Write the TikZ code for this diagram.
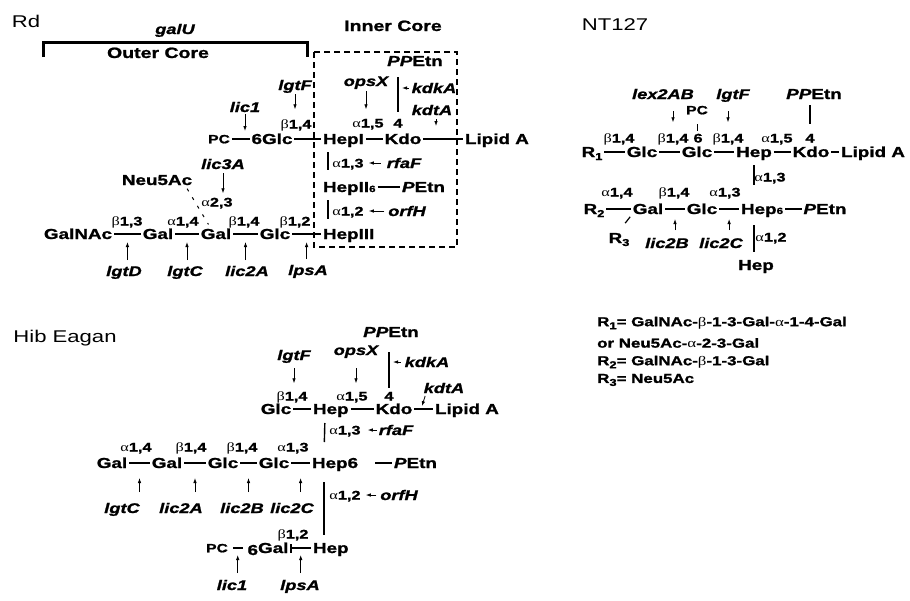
\documentclass[tikz,border=0pt]{standalone}
\usepackage{fontspec}
\setmainfont{Liberation Sans}[FakeStretch=1.3, BoldFeatures={FakeBold=1.3}, BoldItalicFeatures={FakeBold=1.3}]
\newfontfamily\grkfont{Liberation Serif}[FakeStretch=1.3]
\usepackage{tikz}
\usetikzlibrary{arrows.meta, calc}
\newcommand{\aLk}{{\grkfont\mdseries α}}
\newcommand{\bLk}{{\grkfont\mdseries β}}
\newcommand{\sml}[1]{{\fontsize{9}{9}\selectfont #1}}
\newcommand{\rsub}[1]{\raisebox{-3pt}{\fontsize{10}{10}\selectfont #1}}

\begin{document}
\begin{tikzpicture}[x=1pt, y=-1pt,
    sugar/.style={inner sep=0pt, outer sep=2pt, text height=10pt, text depth=0pt, font=\bfseries\fontsize{14.5}{14.5}\selectfont},
    gene/.style={inner sep=0pt, outer sep=1pt, text height=10pt, text depth=0pt, font=\bfseries\itshape\fontsize{14}{14}\selectfont},
    lnk/.style={inner sep=0pt, text height=9pt, text depth=0pt, font=\bfseries\fontsize{12.5}{12.5}\selectfont},
    pcsty/.style={sugar, text height=8.6pt, font=\bfseries\fontsize{12}{12}\selectfont},
    core/.style={sugar, font=\bfseries\fontsize{15}{15}\selectfont},
    hdr/.style={inner sep=0pt, font=\fontsize{17}{17}\selectfont},
    leg/.style={anchor=west, inner sep=0pt, font=\bfseries\fontsize{13}{13}\selectfont},
    bond/.style={line width=1.4pt},
    stem/.style={line width=1.4pt},
    gen/.style={-{Latex[length=5pt,width=3.5pt]}, line width=0.8pt}
]
\useasboundingbox (0,0) rectangle (910,600);

% ---- Rd ----
\node[hdr] (rdT) at (26,21) {Rd};
\node[gene] (galU) at (175,29) {galU};
\draw[line width=3pt] (43,57) |- (307,42) -- (307,57);
\node[core] (outer) at (158,53) {Outer Core};
\node[core] (inner) at (393,26) {Inner Core};
\draw[dash pattern=on 6pt off 4pt, line width=1.3pt] (314,52) rectangle (457,247);

\node[pcsty] (pcA) at (219,139) {PC};
\node[sugar] (glcA) at (272,139) {6Glc};
\node[sugar, anchor=west] (hepA) at (321,139) {HepI};
\node[sugar] (kdoA) at (403,139) {Kdo};
\node[sugar, anchor=west] (lipA) at (463,139) {Lipid A};
\draw[bond] (pcA) -- coordinate (mA1) (glcA);
\draw[bond] (glcA) -- (hepA);
\draw[bond] (hepA) -- (kdoA);
\draw[bond] (kdoA) -- coordinate (mA4) (lipA);

\node[lnk] (lkA1) at (296,124) {\bLk1,4};
\node[lnk] (lkA2) at (368,123) {\aLk1,5};
\node[lnk] (lkA3) at (398,123) {4};
\node[gene] (lgtFa) at (295,85) {lgtF};
\node[gene] (lic1a) at (245,107) {lic1};
\node[gene] (opsXa) at (366,81) {opsX};
\node[sugar] (ppeA) at (415,61) {\textit{PP}Etn};
\node[gene] (kdkAa) at (434,88) {kdkA};
\node[gene] (kdtAa) at (432,110) {kdtA};
\draw[gen, shorten <=3pt, shorten >=10pt] (lgtFa.south) -- (lgtFa.south |- lkA1.north);
\draw[gen, shorten <=1pt, shorten >=8pt] (lic1a.south) -- (lic1a.south |- mA1);
\draw[gen, shorten <=4pt, shorten >=9pt] (opsXa.south) -- (opsXa.south |- lkA2.north);
\draw[stem, shorten <=9pt, shorten >=6pt] (lkA3.north |- ppeA.south) -- (lkA3.north);
\draw[gen, shorten <=2pt, shorten >=4pt] (kdkAa.west) -- (kdkAa.west -| lkA3.north);
\draw[gen, shorten <=3pt, shorten >=13pt] ([xshift=4pt]kdtAa.south) -- ([xshift=4pt]kdtAa.south |- mA4);

\node[lnk] (lkA4) at (348,163) {\aLk1,3};
\node[gene] (rfaFa) at (404,163) {rfaF};
\node[sugar, anchor=west] (hepB) at (321,187) {HepII\sml{6}};
\node[sugar, anchor=west] (petA) at (400,187) {\textit{P}Etn};
\node[lnk] (lkA5) at (348,211) {\aLk1,2};
\node[gene] (orfHa) at (407,211) {orfH};
\node[sugar, anchor=west] (hepC) at (321,234) {HepIII};
\draw[stem, shorten <=6pt, shorten >=10pt] ([xshift=7pt]hepA.south west) -- ([xshift=7pt]hepB.north west);
\draw[gen, shorten <=5pt, shorten >=5pt] (rfaFa) -- (lkA4);
\draw[bond] (hepB) -- (petA);
\draw[stem, shorten <=6pt, shorten >=8pt] ([xshift=7pt]hepB.south west) -- ([xshift=7pt]hepC.north west);
\draw[gen, shorten <=3pt, shorten >=5pt] (orfHa) -- (lkA5);

\node[sugar] (galnacA) at (78,234) {GalNAc};
\node[sugar] (galA1) at (158,234) {Gal};
\node[sugar] (galA2) at (216,234) {Gal};
\node[sugar] (glcA2) at (275,234) {Glc};
\draw[bond] (galnacA) -- coordinate (mB1) (galA1);
\draw[bond] (galA1) -- coordinate (mB2) (galA2);
\draw[bond] (galA2) -- coordinate (mB3) (glcA2);
\draw[bond] (glcA2) -- coordinate (mB4) (hepC);
\node[lnk] (lkB1) at (127,221) {\bLk1,3};
\node[lnk] (lkB2) at (183,221) {\aLk1,4};
\node[lnk] (lkB3) at (244,221) {\bLk1,4};
\node[lnk] (lkB4) at (295,221) {\bLk1,2};
\node[gene] (lgtDa) at (124,271) {lgtD};
\node[gene] (lgtCa) at (185,271) {lgtC};
\node[gene] (lic2Aa) at (247,271) {lic2A};
\node[gene] (lpsAa) at (308,270) {lpsA};
\foreach \g/\m in {lgtDa/mB1, lgtCa/mB2, lic2Aa/mB3, lpsAa/mB4}
    \draw[gen, shorten <=5pt, shorten >=8pt] (\m |- \g.north) -- (\m);

\node[sugar] (neuA) at (157,180) {Neu5Ac};
\node[gene] (lic3Aa) at (223,164) {lic3A};
\node[lnk] (lkB5) at (217,202) {\aLk2,3};
\draw[gen, shorten <=3pt, shorten >=4pt] (lic3Aa.south) -- (lic3Aa.south |- lkB5.north);
\draw[dash pattern=on 3pt off 7pt, line width=1pt, shorten <=2pt, shorten >=3pt] ([xshift=-8pt]neuA.south east) -- ([xshift=-6pt]galA2.north);

% ---- Hib Eagan ----
\node[hdr] (hibT) at (65,338) {Hib Eagan};
\node[sugar] (ppeB) at (391,332) {\textit{PP}Etn};
\node[gene] (lgtFb) at (294,355) {lgtF};
\node[gene] (opsXb) at (356,350) {opsX};
\node[gene] (kdkAb) at (427,362) {kdkA};
\node[gene] (kdtAb) at (444,388) {kdtA};
\node[lnk] (lkC1) at (292,396) {\bLk1,4};
\node[lnk] (lkC2) at (352,396) {\aLk1,5};
\node[lnk] (lkC3) at (389,396) {4};
\node[sugar] (glcB1) at (276,409) {Glc};
\node[sugar, anchor=west] (hepD) at (311,409) {Hep};
\node[sugar] (kdoB) at (394,409) {Kdo};
\node[sugar, anchor=west] (lipB) at (433,409) {Lipid A};
\draw[bond] (glcB1) -- (hepD);
\draw[bond] (hepD) -- (kdoB);
\draw[bond] (kdoB) -- (lipB);
\draw[gen, shorten <=7pt, shorten >=8pt] (lgtFb.south) -- (lgtFb.south |- lkC1.north);
\draw[gen, shorten <=12pt, shorten >=8pt] (opsXb.south) -- (opsXb.south |- lkC2.north);
\draw[stem, shorten <=13pt, shorten >=3pt] (lkC3.north |- ppeB.south) -- (lkC3.north);
\draw[gen, shorten <=3pt, shorten >=4pt] (kdkAb.west) -- (kdkAb.west -| lkC3.north);
\draw[gen, shorten <=2pt, shorten >=3pt] ([xshift=3pt]kdtAb.south west) -- ([xshift=-12pt]lipB.west);

\node[lnk] (lkC4) at (345,430) {\aLk1,3};
\node[gene] (rfaFb) at (396,430) {rfaF};
\node[sugar] (galB1) at (112,463) {Gal};
\node[sugar] (galB2) at (167,463) {Gal};
\node[sugar] (glcB2) at (223,463) {Glc};
\node[sugar] (glcB3) at (274,463) {Glc};
\node[sugar, anchor=west] (hepE) at (310,463) {Hep6};
\node[sugar, anchor=west] (petB) at (392,463) {\textit{P}Etn};
\draw[stem, shorten <=7pt, shorten >=14pt] ([xshift=14pt]hepD.south west) -- ([xshift=14pt]hepE.north west);
\draw[gen, shorten <=1pt, shorten >=7pt] (rfaFb) -- (lkC4);
\draw[bond] (galB1) -- coordinate (mC1) (galB2);
\draw[bond] (galB2) -- coordinate (mC2) (glcB2);
\draw[bond] (glcB2) -- coordinate (mC3) (glcB3);
\draw[bond] (glcB3) -- coordinate (mC4) (hepE);
\draw[bond, shorten <=15pt] (hepE) -- (petB);
\node[lnk] (lkC5) at (136,447) {\aLk1,4};
\node[lnk] (lkC6) at (191,447) {\bLk1,4};
\node[lnk] (lkC7) at (242,447) {\bLk1,4};
\node[lnk] (lkC8) at (293,447) {\aLk1,3};
\node[gene] (lgtCb) at (122,508) {lgtC};
\node[gene] (lic2Ab) at (181,508) {lic2A};
\node[gene] (lic2Bb) at (242,508) {lic2B};
\node[gene] (lic2Cb) at (292,508) {lic2C};
\foreach \g/\m in {lgtCb/mC1, lic2Ab/mC2, lic2Bb/mC3, lic2Cb/mC4}
    \draw[gen, shorten <=10pt, shorten >=15pt] (\m |- \g.north) -- (\m);

\node[lnk] (lkC9) at (345,495) {\aLk1,2};
\node[gene] (orfHb) at (399,495) {orfH};
\node[lnk] (lkC10) at (293,534) {\bLk1,2};
\node[pcsty] (pcB) at (217,548) {PC};
\node[sugar] (galB3) at (268,548) {\raisebox{-2pt}{6}Gal};
\node[sugar, anchor=west] (hepF) at (311,548) {Hep};
\draw[stem, shorten <=12pt, shorten >=6pt] ([xshift=14pt]hepE.south west) -- ([xshift=14pt]hepE.south west |- hepF.north);
\draw[gen, shorten <=3pt, shorten >=5pt] (orfHb) -- (lkC9);
\draw[bond, shorten <=3pt, shorten >=3pt] (pcB) -- coordinate (mD1) (galB3);
\draw[bond, {Bar[width=9pt]}-] (galB3) -- coordinate (mD2) (hepF);
\node[gene] (lic1b) at (232,585) {lic1};
\node[gene] (lpsAb) at (300,585) {lpsA};
\foreach \g/\m in {lic1b/mD1, lpsAb/mD2}
    \draw[gen, shorten <=6pt, shorten >=7pt] (\m |- \g.north) -- (\m);

% ---- NT127 ----
\node[hdr] (ntT) at (615,25) {NT127};
\node[gene] (lex2ABc) at (663,94) {lex2AB};
\node[gene] (lgtFc) at (733,94) {lgtF};
\node[sugar] (ppeC) at (814,94) {\textit{PP}Etn};
\node[pcsty] (pcC) at (697,110) {PC};
\node[lnk] (lkD1) at (619,138) {\bLk1,4};
\node[lnk] (lkD2) at (673,138) {\bLk1,4};
\node[lnk] (lkD3) at (698,138) {6};
\node[lnk] (lkD4) at (728,138) {\bLk1,4};
\node[lnk] (lkD5) at (777,138) {\aLk1,5};
\node[lnk] (lkD6) at (810,138) {4};
\node[sugar] (rA) at (592,152) {R\rsub{1}};
\node[sugar] (glcC1) at (642,152) {Glc};
\node[sugar] (glcC2) at (697,152) {Glc};
\node[sugar] (hepG) at (754,152) {Hep};
\node[sugar] (kdoC) at (811,152) {Kdo};
\node[sugar] (lipC) at (873,152) {Lipid A};
\draw[bond] (rA) -- (glcC1);
\draw[bond] (glcC1) -- (glcC2);
\draw[bond] (glcC2) -- (hepG);
\draw[bond] (hepG) -- (kdoC);
\draw[bond] (kdoC) -- (lipC);
\draw[gen, shorten <=11pt, shorten >=11pt] (lkD2.north |- lex2ABc.south) -- (lkD2.north);
\draw[gen, shorten <=11pt, shorten >=11pt] (lkD4.north |- lgtFc.south) -- (lkD4.north);
\draw[line width=1pt, shorten <=8pt, shorten >=2.5pt] (pcC.south) -- (pcC.south |- lkD3.north);
\draw[stem, shorten <=4pt, shorten >=9pt] (lkD6.north |- ppeC.south) -- (lkD6.north);

\node[lnk] (lkD7) at (770,177) {\aLk1,3};
\node[sugar] (rB) at (594,209) {R\rsub{2}};
\node[sugar] (galC) at (648,209) {Gal};
\node[sugar] (glcC3) at (702,209) {Glc};
\node[sugar, anchor=west] (hepH) at (739,209) {Hep\sml{6}};
\node[sugar] (petC) at (825,209) {\textit{P}Etn};
\node[sugar] (rC) at (619,238) {R\rsub{3}};
\draw[stem, shorten <=6pt, shorten >=17pt] (hepG.south) -- (hepG.south |- hepH.north);
\draw[bond] (rB) -- (galC);
\draw[bond] (galC) -- coordinate (mE2) (glcC3);
\draw[bond] (glcC3) -- coordinate (mE3) (hepH);
\draw[bond] (hepH) -- (petC);
\draw[line width=1.2pt, shorten <=10pt, shorten >=1pt] (rC.north) -- (galC.south west);
\node[lnk] (lkD8) at (617,192) {\aLk1,4};
\node[lnk] (lkD9) at (674,192) {\bLk1,4};
\node[lnk] (lkD10) at (725,192) {\aLk1,3};
\node[gene] (lic2Bc) at (667,243) {lic2B};
\node[gene] (lic2Cc) at (721,243) {lic2C};
\foreach \g/\m in {lic2Bc/mE2, lic2Cc/mE3}
    \draw[gen, shorten <=7pt, shorten >=10pt] (\m |- \g.north) -- (\m);
\node[lnk] (lkD11) at (771,237) {\aLk1,2};
\node[sugar] (hepJ) at (756,265) {Hep};
\draw[stem, shorten <=9pt, shorten >=6pt] (hepG.south |- hepH.south) -- (hepG.south |- hepJ.north);

% legend
\node[leg] (legA) at (597,323) {R\rsub{1}= GalNAc-\bLk-1-3-Gal-\aLk-1-4-Gal};
\node[leg] (legB) at (597,343) {or Neu5Ac-\aLk-2-3-Gal};
\node[leg] (legC) at (597,362) {R\rsub{2}= GalNAc-\bLk-1-3-Gal};
\node[leg] (legD) at (597,380) {R\rsub{3}= Neu5Ac};
\end{tikzpicture}
\end{document}
